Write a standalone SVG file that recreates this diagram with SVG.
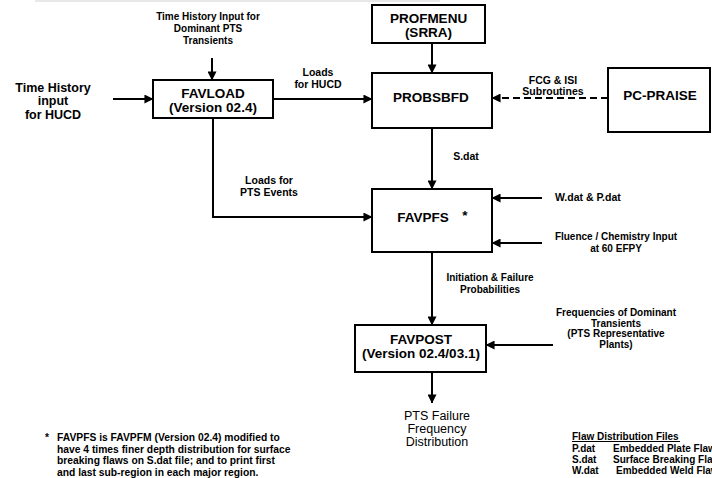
<svg xmlns="http://www.w3.org/2000/svg" width="712" height="478" viewBox="0 0 712 478">
<style>
text{font-family:"Liberation Sans",Arial,Helvetica,sans-serif;fill:#000;text-anchor:middle}
.node rect{fill:#fff;stroke:#000;stroke-width:2}
.nl{font-size:13.5px;font-weight:bold}
.lb{font-size:10.5px;font-weight:bold}
.sm{font-size:10px;font-weight:bold}
.ft{font-size:10.3px;font-weight:bold;text-anchor:start}
.out{font-size:12.5px}
.cn{stroke:#000;stroke-width:2;fill:none}
.dash{stroke-dasharray:7 4}
.ln{text-anchor:start}
</style>
<defs>
<marker id="ah" viewBox="0 0 10 10" refX="9.5" refY="5" markerWidth="4.5" markerHeight="4.5" orient="auto" markerUnits="strokeWidth">
<path d="M0,0 L10,5 L0,10 z" fill="#000"/>
</marker>
</defs>
<rect width="712" height="478" fill="#fff"/>
<line x1="35" y1="1" x2="440" y2="1" stroke="#d0d0d0" stroke-width="1"/>

<g id="connectors">
<line class="cn" x1="212" y1="58" x2="212" y2="80" marker-end="url(#ah)"/>
<line class="cn" x1="113" y1="99" x2="153" y2="99" marker-end="url(#ah)"/>
<line class="cn" x1="273" y1="99" x2="372" y2="99" marker-end="url(#ah)"/>
<line class="cn" x1="432" y1="43" x2="432" y2="73" marker-end="url(#ah)"/>
<line class="cn dash" x1="608" y1="98" x2="492" y2="98" marker-end="url(#ah)"/>
<line class="cn" x1="432" y1="128" x2="432" y2="189" marker-end="url(#ah)"/>
<polyline class="cn" points="213,118 213,217 372,217" marker-end="url(#ah)"/>
<line class="cn" x1="542" y1="198" x2="492" y2="198" marker-end="url(#ah)"/>
<line class="cn" x1="542" y1="243" x2="492" y2="243" marker-end="url(#ah)"/>
<line class="cn" x1="432" y1="252" x2="432" y2="325" marker-end="url(#ah)"/>
<line class="cn" x1="553" y1="345" x2="486" y2="345" marker-end="url(#ah)"/>
<line class="cn" x1="432" y1="372" x2="432" y2="403" marker-end="url(#ah)"/>
</g>

<g id="profmenu" class="node">
<rect x="372" y="5" width="113" height="38"/>
<text class="nl" x="428.5" y="23">PROFMENU</text>
<text class="nl" x="428.5" y="37">(SRRA)</text>
</g>
<g id="favload" class="node">
<rect x="153" y="80" width="120" height="38"/>
<text class="nl" x="213" y="98">FAVLOAD</text>
<text class="nl" x="213" y="112">(Version 02.4)</text>
</g>
<g id="probsbfd" class="node">
<rect x="372" y="73" width="120" height="55"/>
<text class="nl" x="431" y="102">PROBSBFD</text>
</g>
<g id="pcpraise" class="node">
<rect x="608" y="68" width="102" height="64"/>
<text class="nl" x="660" y="100">PC-PRAISE</text>
</g>
<g id="favpfs" class="node">
<rect x="372" y="189" width="120" height="63"/>
<text class="nl" x="423" y="222">FAVPFS</text>
<text class="nl" x="465" y="220">*</text>
</g>
<g id="favpost" class="node">
<rect x="355" y="325" width="131" height="47"/>
<text class="nl" x="421" y="344">FAVPOST</text>
<text class="nl" x="421" y="358">(Version 02.4/03.1)</text>
</g>

<g id="labels">
<text class="sm" x="208" y="20">Time History Input for</text>
<text class="sm" x="208" y="32">Dominant PTS</text>
<text class="sm" x="208" y="44">Transients</text>
<text style="font-size:12.5px;font-weight:bold" x="53" y="92">Time History</text>
<text style="font-size:12.5px;font-weight:bold" x="53" y="105">input</text>
<text style="font-size:12.5px;font-weight:bold" x="53" y="119">for HUCD</text>
<text class="lb" x="318" y="76">Loads</text>
<text class="lb" x="318" y="88">for HUCD</text>
<text class="lb" x="553" y="84">FCG &amp; ISI</text>
<text class="lb" x="553" y="95">Subroutines</text>
<text class="lb" x="466" y="160">S.dat</text>
<text class="lb" x="269" y="184">Loads for</text>
<text class="lb" x="269" y="196">PTS Events</text>
<text class="lb ln" x="555" y="201">W.dat &amp; P.dat</text>
<text class="sm" x="616" y="240">Fluence / Chemistry Input</text>
<text class="sm" x="616" y="252">at 60 EFPY</text>
<text class="sm" x="490" y="281">Initiation &amp; Failure</text>
<text class="sm" x="490" y="293">Probabilities</text>
<text class="sm" x="616" y="316">Frequencies of Dominant</text>
<text class="sm" x="616" y="326.5">Transients</text>
<text class="sm" x="616" y="337">(PTS Representative</text>
<text class="sm" x="616" y="347.5">Plants)</text>
<text class="out" x="437" y="420">PTS Failure</text>
<text class="out" x="437" y="433">Frequency</text>
<text class="out" x="437" y="446">Distribution</text>
</g>

<g id="footnote">
<text class="ft" x="45" y="441">*</text>
<text class="ft" x="57" y="441">FAVPFS is FAVPFM (Version 02.4) modified to</text>
<text class="ft" x="57" y="452.5">have 4 times finer depth distribution for surface</text>
<text class="ft" x="57" y="464">breaking flaws on S.dat file;  and to print first</text>
<text class="ft" x="57" y="475.5">and last sub-region in each major region.</text>
</g>

<g id="legend">
<text class="sm ln" x="572" y="440">Flaw Distribution Files</text>
<line x1="572" y1="441.5" x2="680" y2="441.5" stroke="#000" stroke-width="1"/>
<text class="sm ln" x="572" y="451.5">P.dat</text>
<text class="sm ln" x="613" y="451.5">Embedded Plate Flaws</text>
<text class="sm ln" x="572" y="462.5">S.dat</text>
<text class="sm ln" x="613" y="462.5">Surface Breaking Flaws</text>
<text class="sm ln" x="572" y="473.5">W.dat</text>
<text class="sm ln" x="616" y="473.5">Embedded Weld Flaws</text>
</g>
</svg>
